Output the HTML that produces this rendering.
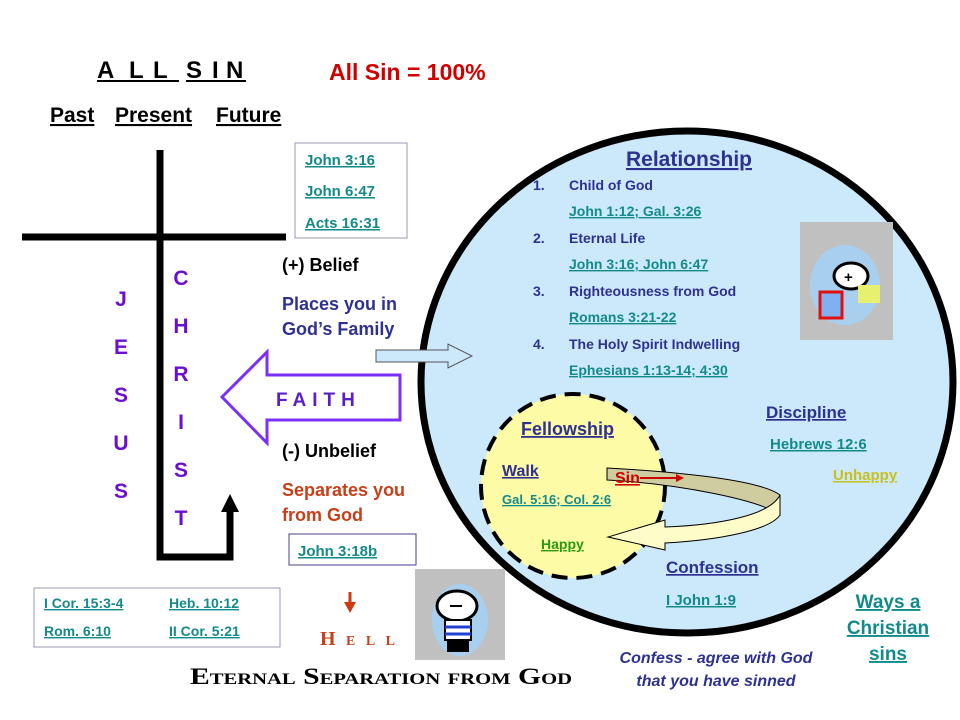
<!DOCTYPE html>
<html><head><meta charset="utf-8"><style>
html,body{margin:0;padding:0;background:#fff;width:960px;height:720px;overflow:hidden}
svg{display:block}
text{font-family:"Liberation Sans",Arial,sans-serif;font-weight:bold}
.u{text-decoration:underline}
.teal{fill:#138a8a}
.navy{fill:#2e3192}
</style></head><body>
<svg width="960" height="720" viewBox="0 0 960 720" xmlns="http://www.w3.org/2000/svg">
<ellipse cx="687" cy="382" rx="266" ry="251" fill="#cce9fb" stroke="#000" stroke-width="7"/>
<circle cx="573" cy="486" r="92" fill="#fefba6" stroke="#000" stroke-width="4" stroke-dasharray="16,9"/>
<path d="M607,468 L607,480 C680,484 760,500 780,515 L780,495 C760,480 680,472 607,468 Z" fill="#cfcca0" stroke="#000" stroke-width="1"/>
<path d="M780,495 L780,515 C770,530 720,540 665,543 L665,550 L608,537 L665,520 L665,527 C720,525 770,515 780,495 Z" fill="#fefcc8" stroke="#000" stroke-width="1"/>
<g stroke="#000" stroke-width="7" fill="none">
<line x1="22" y1="237" x2="286" y2="237"/>
<polyline points="160,150 160,557 230,557 230,510"/>
</g>
<polygon points="230,494 221,512 239,512" fill="#000"/>
<polygon points="222,397 267,352 267,375 400,375 400,420 267,420 267,443" fill="#fff" stroke="#7b2ff7" stroke-width="3"/>
<text x="276" y="406" font-size="19" fill="#5b1fc8" letter-spacing="6">FAITH</text>
<polygon points="376,350 448,350 448,344 472,356 448,368 448,362 376,362" fill="#cce9fb" stroke="#555" stroke-width="1"/>
<g font-size="24" fill="#000">
<text x="97" y="78">A</text><text x="129" y="78">L</text><text x="153" y="78">L</text>
<text x="186" y="78">S</text><text x="212" y="78">I</text><text x="226" y="78">N</text>
</g>
<line x1="97" y1="81" x2="179" y2="81" stroke="#000" stroke-width="2"/>
<line x1="186" y1="81" x2="246" y2="81" stroke="#000" stroke-width="2"/>
<text x="329" y="80" font-size="23" fill="#d00000">All Sin = 100%</text>
<text x="50" y="122" font-size="21" fill="#000" class="u">Past</text>
<text x="115" y="122" font-size="21" fill="#000" class="u">Present</text>
<text x="216" y="122" font-size="21" fill="#000" class="u">Future</text>
<g font-size="21" fill="#6a0fcf" text-anchor="middle">
<text x="121" y="306">J</text><text x="121" y="354">E</text><text x="121" y="402">S</text><text x="121" y="450">U</text><text x="121" y="498">S</text>
<text x="181" y="285">C</text><text x="181" y="333">H</text><text x="181" y="381">R</text><text x="181" y="429">I</text><text x="181" y="477">S</text><text x="181" y="525">T</text>
</g>
<rect x="295" y="143" width="112" height="95" fill="#fff" stroke="#9a9ab5" stroke-width="1"/>
<g font-size="15" class="teal">
<text x="305" y="165" class="u">John 3:16</text>
<text x="305" y="196" class="u">John 6:47</text>
<text x="305" y="228" class="u">Acts 16:31</text>
</g>
<text x="282" y="271" font-size="18" fill="#000">(+) Belief</text>
<text x="282" y="310" font-size="18" class="navy">Places you in</text>
<text x="282" y="335" font-size="18" class="navy">God’s Family</text>
<text x="282" y="457" font-size="18" fill="#000">(-) Unbelief</text>
<text x="282" y="496" font-size="18" fill="#c8401a">Separates you</text>
<text x="282" y="521" font-size="18" fill="#c8401a">from God</text>
<rect x="289" y="534" width="127" height="31" fill="#fff" stroke="#4a3f8a" stroke-width="1"/>
<text x="298" y="556" font-size="15" class="teal u">John 3:18b</text>
<rect x="34" y="588" width="246" height="59" fill="#fff" stroke="#9a9ab5" stroke-width="1"/>
<g font-size="14" class="teal">
<text x="44" y="608" class="u">I Cor. 15:3-4</text>
<text x="169" y="608" class="u">Heb. 10:12</text>
<text x="44" y="636" class="u">Rom. 6:10</text>
<text x="169" y="636" class="u">II Cor. 5:21</text>
</g>
<line x1="350" y1="592" x2="350" y2="604" stroke="#d03a10" stroke-width="3"/>
<polygon points="344,602 356,602 350,613" fill="#d03a10"/>
<text x="320" y="645" font-size="20" fill="#c8401a" style="font-family:'Liberation Serif',serif;font-variant:small-caps;font-weight:bold" textLength="75" lengthAdjust="spacing">Hell</text>
<rect x="415" y="569" width="90" height="91" fill="#c0c0c0"/>
<ellipse cx="460" cy="620" rx="28" ry="36" fill="#a8d0ee"/>
<ellipse cx="457" cy="606" rx="20" ry="15" fill="#fff" stroke="#000" stroke-width="3"/>
<line x1="450" y1="606" x2="462" y2="606" stroke="#000" stroke-width="2"/>
<rect x="445" y="620" width="26" height="20" fill="#fff" stroke="#000" stroke-width="2"/>
<line x1="445" y1="627" x2="471" y2="627" stroke="#2040d0" stroke-width="3"/>
<line x1="445" y1="634" x2="471" y2="634" stroke="#2040d0" stroke-width="3"/>
<rect x="447" y="640" width="22" height="12" fill="#000"/>
<text x="190" y="684" font-size="23" fill="#000" style="font-family:'Liberation Serif',serif;font-variant:small-caps;font-weight:bold" textLength="382" lengthAdjust="spacingAndGlyphs">Eternal Separation from God</text>
<text x="626" y="166" font-size="21" class="navy u">Relationship</text>
<g font-size="14" class="navy">
<text x="533" y="190">1.</text><text x="569" y="190">Child of God</text>
<text x="533" y="243">2.</text><text x="569" y="243">Eternal Life</text>
<text x="533" y="296">3.</text><text x="569" y="296">Righteousness from God</text>
<text x="533" y="349">4.</text><text x="569" y="349">The Holy Spirit Indwelling</text>
</g>
<g font-size="14" class="teal">
<text x="569" y="216" class="u">John 1:12; Gal. 3:26</text>
<text x="569" y="269" class="u">John 3:16; John 6:47</text>
<text x="569" y="322" class="u">Romans 3:21-22</text>
<text x="569" y="375" class="u">Ephesians 1:13-14; 4:30</text>
</g>
<rect x="800" y="222" width="93" height="118" fill="#c0c0c0"/>
<ellipse cx="845" cy="285" rx="35" ry="40" fill="#a8d0ee"/>
<ellipse cx="851" cy="276" rx="17" ry="13" fill="#fff" stroke="#000" stroke-width="3"/>
<text x="844" y="282" font-size="15" fill="#000">+</text>
<rect x="820" y="292" width="22" height="26" fill="#80b0f0" stroke="#e01010" stroke-width="3"/>
<rect x="858" y="285" width="22" height="18" fill="#e8f070"/>
<text x="521" y="435" font-size="18" class="navy u">Fellowship</text>
<text x="502" y="476" font-size="16" class="navy u">Walk</text>
<text x="502" y="504" font-size="13" class="teal u">Gal. 5:16; Col. 2:6</text>
<text x="615" y="483" font-size="16" fill="#d00000" class="u">Sin</text>
<line x1="640" y1="478" x2="680" y2="478" stroke="#d00000" stroke-width="2"/>
<polygon points="684,478 676,474 676,482" fill="#d00000"/>
<text x="541" y="549" font-size="14" fill="#2a9a10" class="u">Happy</text>
<text x="766" y="418" font-size="17" class="navy u">Discipline</text>
<text x="770" y="449" font-size="15" class="teal u">Hebrews 12:6</text>
<text x="833" y="480" font-size="15" fill="#c8c020" class="u">Unhappy</text>
<text x="666" y="573" font-size="17" class="navy u">Confession</text>
<text x="666" y="605" font-size="15" class="teal u">I John 1:9</text>
<g font-size="19" class="teal" text-anchor="middle">
<text x="888" y="608" class="u">Ways a</text>
<text x="888" y="634" class="u">Christian</text>
<text x="888" y="660" class="u">sins</text>
</g>
<g font-size="16" class="navy" font-style="italic" text-anchor="middle">
<text x="716" y="663">Confess - agree with God</text>
<text x="716" y="686">that you have sinned</text>
</g>
</svg>
</body></html>
